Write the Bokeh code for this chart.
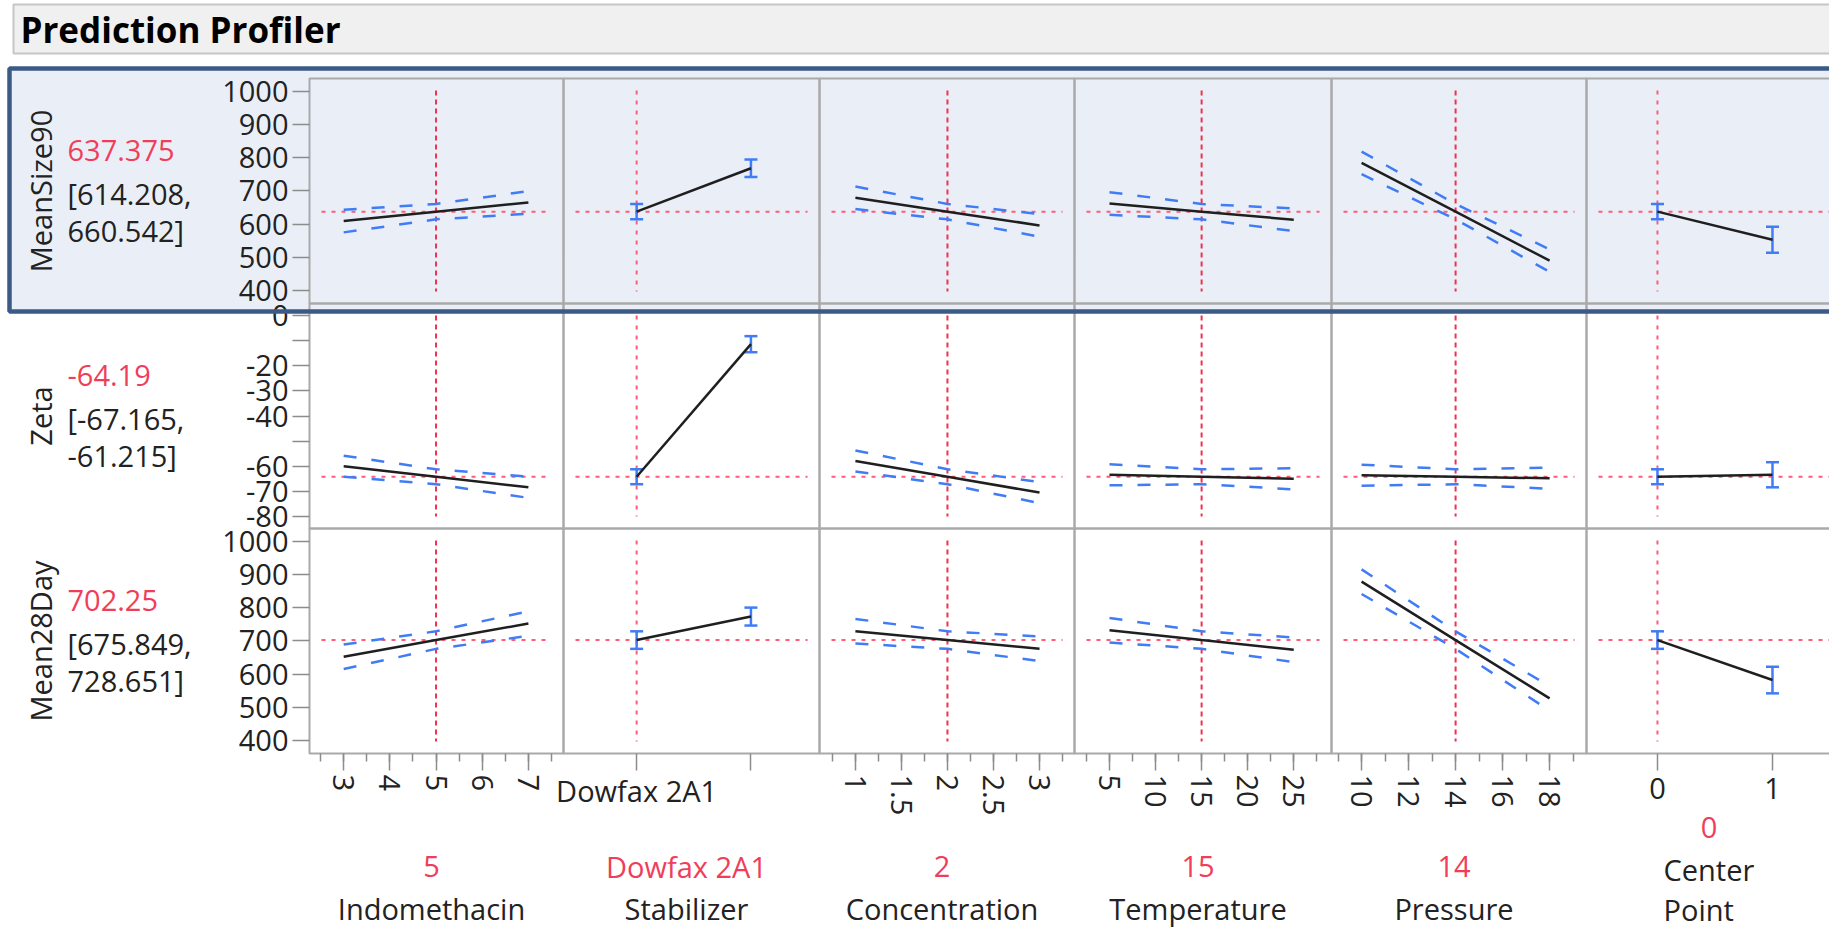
from bokeh.plotting import figure
from bokeh.models import (Range1d, LinearAxis, FixedTicker, SingleIntervalTicker,
                          NumeralTickFormatter)
from bokeh.core.properties import value
from bokeh.embed import file_html
from bokeh.resources import INLINE

# ---------------- data ----------------
responses = ["MeanSize90", "Zeta", "Mean28Day"]
response_value = [637.375, -64.19, 702.25]
response_lower = [614.208, -67.165, 675.849]
response_upper = [660.542, -61.215, 728.651]
response_value_label = ["637.375", "-64.19", "702.25"]
response_lower_label = ["[614.208,", "[-67.165,", "[675.849,"]
response_upper_label = ["660.542]", "-61.215]", "728.651]"]

factors = ["Indomethacin", "Stabilizer", "Concentration", "Temperature", "Pressure", "Center Point"]
factor_setting = [5, 0, 2, 15, 14, 0]
factor_setting_label = ["5", "Dowfax 2A1", "2", "15", "14", "0"]

level_position = [0, 1]
stabilizer_levels = ["Dowfax 2A1", ""]
center_point_levels = ["0", "1"]

indomethacin_x = [3, 5, 7]
concentration_x = [1, 2, 3]
temperature_x = [5, 15, 25]
pressure_x = [10, 14, 18]

# MeanSize90
ms90_indo = [609, 637.375, 665];      ms90_indo_lo = [575, 614.208, 631];      ms90_indo_hi = [643, 660.542, 699]
ms90_stab = [637.375, 768];           ms90_stab_lo = [614.208, 742];           ms90_stab_hi = [660.542, 794]
ms90_conc = [679, 637.375, 596];      ms90_conc_lo = [645, 614.208, 562];      ms90_conc_hi = [713, 660.542, 630]
ms90_temp = [662, 637.375, 613];      ms90_temp_lo = [628, 614.208, 579];      ms90_temp_hi = [696, 660.542, 647]
ms90_pres = [784, 637.375, 490];      ms90_pres_lo = [750, 614.208, 456];      ms90_pres_hi = [818, 660.542, 524]
ms90_cp = [637.375, 553];             ms90_cp_lo = [614.208, 514];             ms90_cp_hi = [660.542, 592]

# Zeta
zeta_indo = [-60.0, -64.19, -68.4];   zeta_indo_lo = [-64.2, -67.165, -72.6];  zeta_indo_hi = [-55.8, -61.215, -64.2]
zeta_stab = [-64.19, -11.4];          zeta_stab_lo = [-67.165, -14.6];         zeta_stab_hi = [-61.215, -8.2]
zeta_conc = [-57.9, -64.19, -70.5];   zeta_conc_lo = [-62.1, -67.165, -74.7];  zeta_conc_hi = [-53.7, -61.215, -66.3]
zeta_temp = [-63.4, -64.19, -65.0];   zeta_temp_lo = [-67.6, -67.165, -69.2];  zeta_temp_hi = [-59.2, -61.215, -60.8]
zeta_pres = [-63.6, -64.19, -64.8];   zeta_pres_lo = [-67.8, -67.165, -69.0];  zeta_pres_hi = [-59.4, -61.215, -60.6]
zeta_cp = [-64.19, -63.4];            zeta_cp_lo = [-67.165, -68.4];           zeta_cp_hi = [-61.215, -58.4]

# Mean28Day
m28_indo = [652, 702.25, 752];        m28_indo_lo = [615, 675.849, 715];       m28_indo_hi = [689, 728.651, 789]
m28_stab = [702.25, 773];             m28_stab_lo = [675.849, 746];            m28_stab_hi = [728.651, 800]
m28_conc = [729, 702.25, 676];        m28_conc_lo = [692, 675.849, 639];       m28_conc_hi = [766, 728.651, 713]
m28_temp = [732, 702.25, 673];        m28_temp_lo = [695, 675.849, 636];       m28_temp_hi = [769, 728.651, 710]
m28_pres = [878, 702.25, 527];        m28_pres_lo = [841, 675.849, 490];       m28_pres_hi = [915, 728.651, 564]
m28_cp = [702.25, 582];               m28_cp_lo = [675.849, 542];              m28_cp_hi = [728.651, 622]

factor_x = [indomethacin_x, level_position, concentration_x, temperature_x, pressure_x, level_position]
factor_is_categorical = [False, True, False, False, False, True]
profiles = [
    [(ms90_indo, ms90_indo_lo, ms90_indo_hi), (ms90_stab, ms90_stab_lo, ms90_stab_hi),
     (ms90_conc, ms90_conc_lo, ms90_conc_hi), (ms90_temp, ms90_temp_lo, ms90_temp_hi),
     (ms90_pres, ms90_pres_lo, ms90_pres_hi), (ms90_cp, ms90_cp_lo, ms90_cp_hi)],
    [(zeta_indo, zeta_indo_lo, zeta_indo_hi), (zeta_stab, zeta_stab_lo, zeta_stab_hi),
     (zeta_conc, zeta_conc_lo, zeta_conc_hi), (zeta_temp, zeta_temp_lo, zeta_temp_hi),
     (zeta_pres, zeta_pres_lo, zeta_pres_hi), (zeta_cp, zeta_cp_lo, zeta_cp_hi)],
    [(m28_indo, m28_indo_lo, m28_indo_hi), (m28_stab, m28_stab_lo, m28_stab_hi),
     (m28_conc, m28_conc_lo, m28_conc_hi), (m28_temp, m28_temp_lo, m28_temp_hi),
     (m28_pres, m28_pres_lo, m28_pres_hi), (m28_cp, m28_cp_lo, m28_cp_hi)],
]

# ---------------- layout (pixels) ----------------
W, H = 1829, 927
col_px = [(309, 563), (563, 819), (819, 1074), (1074, 1331), (1331, 1586), (1586, 1841)]
col_range = [(2.26, 7.76), (-0.64, 1.6), (0.61, 3.38), (1.2, 29.1), (8.72, 19.57), (-0.617, 1.6)]
row_px = [(78, 303), (303, 528), (528, 753)]
row_range = [(361, 1038), (-84.8, 4.8), (361, 1038)]

FONT = "Open Sans"
FS = "29px"
RED_TEXT = "#f03e5a"
RED_LINE = "#f0304e"
RED_DOT = "#ff5c78"
BLUE = "#3f7cf6"
BLACK = "#1f1f1f"
GRAY = "#a9a9a9"
BOX_BLUE = "#3b5b86"
BOX_FILL = "#eaeff7"


def full_x_range(i):
    (a, b), (d0, d1) = col_px[i], col_range[i]
    k = (d1 - d0) / (b - a)
    return Range1d(start=d0 - a * k, end=d0 + (W - a) * k)


def full_y_range(j):
    (t, bt), (lo, hi) = row_px[j], row_range[j]
    k = (hi - lo) / (bt - t)
    return Range1d(start=hi - (H - t) * k, end=hi + t * k)


p = figure(width=W, height=H, x_range=Range1d(0, W), y_range=Range1d(H, 0),
           x_axis_type=None, y_axis_type=None, toolbar_location=None,
           output_backend="svg", min_border=0, outline_line_color=None,
           background_fill_color="white", border_fill_color="white")
p.extra_x_ranges = {f"c{i}": full_x_range(i) for i in range(6)}
p.extra_y_ranges = {f"r{j}": full_y_range(j) for j in range(3)}

# title bar and selection box background
p.quad(left=[13], right=[W + 10], top=[4], bottom=[53], fill_color="#f0f0f0",
       line_color="#c6c6c6", line_width=2)
p.quad(left=[9], right=[W + 10], top=[68], bottom=[311], fill_color=BOX_FILL, line_color=None)
p.text(x=[20], y=[29], text=["Prediction Profiler"], text_font=value(FONT),
       text_font_style="bold", text_font_size=value("35px"), text_color="#000000",
       text_align="left", text_baseline="middle")

# panel borders
for j in range(3):
    for i in range(6):
        (a, b), (t, bt) = col_px[i], row_px[j]
        p.quad(left=[a], right=[b], top=[t], bottom=[bt], fill_color=None,
               line_color=GRAY, line_width=2)

# reference lines, profiles
for j in range(3):
    t, bt = row_px[j]
    for i in range(6):
        a, b = col_px[i]
        xr, yr = f"c{i}", f"r{j}"
        p.segment(x0=[a + 12], x1=[min(b - 12, W + 5)], y0=[response_value[j]], y1=[response_value[j]],
                  y_range_name=yr, line_color=RED_DOT, line_width=2, line_dash="4 6")
        p.segment(x0=[factor_setting[i]], x1=[factor_setting[i]], y0=[t + 12], y1=[bt - 12],
                  x_range_name=xr, line_color=RED_DOT if factor_is_categorical[i] else RED_LINE,
                  line_width=2, line_dash="4 6" if factor_is_categorical[i] else "5 4")
        pred, lo, hi = profiles[j][i]
        xs = factor_x[i]
        if factor_is_categorical[i]:
            p.segment(x0=xs, x1=xs, y0=lo, y1=hi, x_range_name=xr, y_range_name=yr,
                      line_color=BLUE, line_width=2.5)
            p.scatter(xs + xs, lo + hi, marker="dash", size=13, line_width=2.5,
                      line_color=BLUE, x_range_name=xr, y_range_name=yr)
        else:
            for band in (lo, hi):
                p.line(xs, band, x_range_name=xr, y_range_name=yr, line_color=BLUE,
                       line_width=2.5, line_dash="13 15")
        p.line(xs, pred, x_range_name=xr, y_range_name=yr, line_color=BLACK, line_width=2.5)

# left labels
for j in range(3):
    t, bt = row_px[j]
    p.text(x=[40], y=[(t + bt) / 2], text=[responses[j]], angle=1.5708,
           text_font=value(FONT), text_font_size=value(FS), text_color="#222222",
           text_align="center", text_baseline="middle")
    p.text(x=[67], y=[t + 72], text=[response_value_label[j]], text_font=value(FONT),
           text_font_size=value(FS), text_color=RED_TEXT, text_align="left", text_baseline="middle")
    p.text(x=[67, 67], y=[t + 115, t + 152],
           text=[response_lower_label[j], response_upper_label[j]], text_font=value(FONT),
           text_font_size=value(FS), text_color="#222222", text_align="left", text_baseline="middle")

# bottom labels
for i in range(5):
    a, b = col_px[i]
    c = (a + b) / 2 - 5
    p.text(x=[c], y=[866], text=[factor_setting_label[i]], text_font=value(FONT),
           text_font_size=value(FS), text_color=RED_TEXT, text_align="center", text_baseline="middle")
    p.text(x=[c], y=[908], text=[factors[i]], text_font=value(FONT),
           text_font_size=value(FS), text_color="#222222", text_align="center", text_baseline="middle")
a, b = col_px[5]
p.text(x=[(a + b) / 2 - 5], y=[827], text=[factor_setting_label[5]], text_font=value(FONT),
       text_font_size=value(FS), text_color=RED_TEXT, text_align="center", text_baseline="middle")
name_words = factors[5].split(" ")
p.text(x=[a + 77, a + 77], y=[869, 909], text=name_words, text_font=value(FONT),
       text_font_size=value(FS), text_color="#222222", text_align="left", text_baseline="middle")

# selection box outline (on top)
p.quad(left=[9], right=[W + 10], top=[68], bottom=[311], fill_color=None,
       line_color=BOX_BLUE, line_width=4.5, level="overlay")

# ---------------- axes ----------------
def style_axis(ax):
    ax.axis_line_color = None
    ax.major_tick_line_color = "#8c8c8c"
    ax.major_tick_line_width = 1.5
    ax.minor_tick_line_color = "#8c8c8c"
    ax.minor_tick_line_width = 1.5
    ax.major_tick_in = 0
    ax.minor_tick_in = 0
    ax.major_label_text_font = FONT
    ax.major_label_text_font_size = FS
    ax.major_label_text_color = "#222222"


x_tickers = [SingleIntervalTicker(interval=1, num_minor_ticks=2),
             FixedTicker(ticks=level_position, minor_ticks=[]),
             SingleIntervalTicker(interval=0.5, num_minor_ticks=2),
             SingleIntervalTicker(interval=5, num_minor_ticks=2),
             SingleIntervalTicker(interval=2, num_minor_ticks=2),
             FixedTicker(ticks=level_position, minor_ticks=[])]
x_formats = ["0", "0", "0.[0]", "0", "0", "0"]
for i in range(6):
    ax = LinearAxis(x_range_name=f"c{i}", fixed_location=row_px[2][1], bounds=col_range[i],
                    ticker=x_tickers[i], formatter=NumeralTickFormatter(format=x_formats[i]))
    style_axis(ax)
    ax.major_tick_out = 17
    ax.minor_tick_out = 8
    if factor_is_categorical[i]:
        ax.major_label_orientation = "horizontal"
        ax.major_label_standoff = 0 if i == 1 else 7
        labels = stabilizer_levels if i == 1 else center_point_levels
        ax.major_label_overrides = {pos: lab for pos, lab in zip(level_position, labels)}
    else:
        ax.major_label_orientation = "vertical"
        ax.major_label_standoff = 4
    p.add_layout(ax, "below")

y_tickers = [SingleIntervalTicker(interval=100, num_minor_ticks=0),
             FixedTicker(ticks=[0, -20, -30, -40, -60, -70, -80], minor_ticks=[-10, -50]),
             SingleIntervalTicker(interval=100, num_minor_ticks=0)]
for j in range(3):
    ax = LinearAxis(y_range_name=f"r{j}", fixed_location=col_px[0][0], bounds=row_range[j],
                    ticker=y_tickers[j], formatter=NumeralTickFormatter(format="0"))
    style_axis(ax)
    ax.major_tick_out = 17
    ax.minor_tick_out = 17
    ax.major_label_standoff = 4
    p.add_layout(ax, "left")

open("out.html", "w").write(file_html(p, INLINE))
